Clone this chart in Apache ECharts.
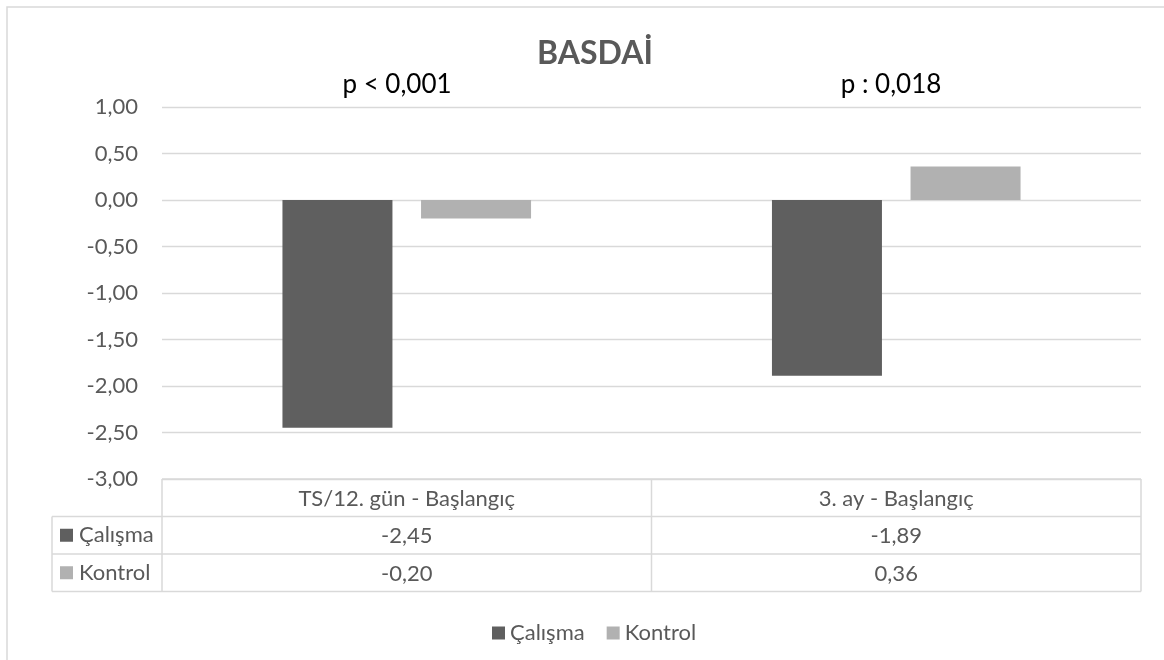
<!DOCTYPE html>
<html>
<head>
<meta charset="utf-8">
<script src="https://cdn.jsdelivr.net/npm/echarts@6/dist/echarts.min.js"></script>
<style>
  html, body { margin: 0; padding: 0; background: #fff; }
  #chart { width: 1164px; height: 660px; }
</style>
</head>
<body>
<div id="chart"></div>
<script>
// BASDAİ change scores per interval, two groups
const categories = ['TS/12. gün - Başlangıç', '3. ay - Başlangıç'];
const seriesNames = ['Çalışma', 'Kontrol'];
const calisma = [-2.45, -1.89];
const kontrol = [-0.20, 0.36];
const pLabels = ['p < 0,001', 'p : 0,018'];
const chartTitle = 'BASDAİ';

const FONT = 'Lato, "Open Sans", sans-serif';
const FS = 22;
const TEXT = '#595959';
const LINE = '#d9d9d9';
const DARK = '#5f5f5f';
const LIGHT = '#b1b1b1';

// plot frame (pixels)
const GL = 162, GR = 1141, GT = 107, GB = 479;
const ROW = 37.5;            // data-table row height
const HEAD_L = 52;           // left edge of the row-header column

const fmt = v => v.toFixed(2).replace('.', ',');

const chart = echarts.init(document.getElementById('chart'), null, { renderer: 'canvas' });

// data-table grid lines and row headers
const tableY = [GB, GB + ROW, GB + 2 * ROW, GB + 3 * ROW];
const colW = (GR - GL) / categories.length;
const g = [];
g.push({ type: 'rect', shape: { x: 7, y: 7, width: 1200, height: 700 },
  style: { fill: 'none', stroke: LINE, lineWidth: 1.5 }, silent: true });
tableY.forEach((y, i) => {
  g.push({ type: 'line', shape: { x1: i === 0 ? GL : HEAD_L, y1: y, x2: GR, y2: y },
    style: { stroke: LINE, lineWidth: 1.5 }, silent: true });
});
const vx = [GL];
for (let i = 1; i <= categories.length; i++) vx.push(GL + colW * i);
vx.forEach(x => {
  g.push({ type: 'line', shape: { x1: x, y1: GB, x2: x, y2: tableY[3] },
    style: { stroke: LINE, lineWidth: 1.5 }, silent: true });
});
g.push({ type: 'line', shape: { x1: HEAD_L, y1: tableY[1], x2: HEAD_L, y2: tableY[3] },
  style: { stroke: LINE, lineWidth: 1.5 }, silent: true });
[DARK, LIGHT].forEach((c, i) => {
  const cy = tableY[1] + ROW * (i + 0.5);
  g.push({ type: 'rect', shape: { x: 60, y: cy - 6.5, width: 13, height: 13 },
    style: { fill: c }, silent: true });
  g.push({ type: 'text', x: 79, y: cy,
    style: { text: seriesNames[i], fill: TEXT, font: FS + 'px ' + FONT, textVerticalAlign: 'middle' },
    silent: true });
});
// significance annotations above each group
const pX = [397, 891];
pLabels.forEach((t, i) => {
  g.push({ type: 'text', x: pX[i], y: 85,
    style: { text: t, fill: '#000', font: '26px ' + FONT, textAlign: 'center', textVerticalAlign: 'middle' },
    silent: true });
});

chart.setOption({
  animation: false,
  backgroundColor: '#fff',
  title: {
    text: chartTitle,
    left: 590, top: 33, textAlign: 'center',
    textStyle: { fontFamily: FONT, fontWeight: 'bold', fontSize: 32, color: TEXT }
  },
  legend: {
    data: seriesNames,
    left: 487, top: 617,
    itemWidth: 13, itemHeight: 13, itemGap: 22,
    icon: 'rect',
    textStyle: { fontFamily: FONT, fontSize: FS, color: TEXT }
  },
  grid: { left: GL, right: 1164 - GR, top: GT, bottom: 660 - GB, containLabel: false },
  xAxis: {
    type: 'category',
    data: categories,
    axisLine: { show: false, onZero: false },
    axisTick: { show: false },
    axisLabel: {
      margin: 1,
      interval: 0,
      formatter: (v, i) => `{h|${v}}\n{v|${fmt(calisma[i])}}\n{v|${fmt(kontrol[i])}}`,
      rich: {
        h: { fontFamily: FONT, fontSize: FS, color: TEXT, lineHeight: ROW, align: 'center' },
        v: { fontFamily: FONT, fontSize: FS, color: TEXT, lineHeight: ROW, align: 'center' }
      }
    }
  },
  yAxis: {
    type: 'value',
    min: -3, max: 1, interval: 0.5,
    axisLine: { show: false },
    axisTick: { show: false },
    axisLabel: { margin: 24, formatter: v => fmt(v), fontFamily: FONT, fontSize: FS, color: TEXT },
    splitLine: { lineStyle: { color: LINE, width: 1.3 } }
  },
  series: [
    { name: seriesNames[0], type: 'bar', data: calisma, barWidth: 110, barGap: '26%',
      itemStyle: { color: DARK } },
    { name: seriesNames[1], type: 'bar', data: kontrol, barWidth: 110, barGap: '26%',
      itemStyle: { color: LIGHT } }
  ],
  graphic: g
});
</script>
</body>
</html>
